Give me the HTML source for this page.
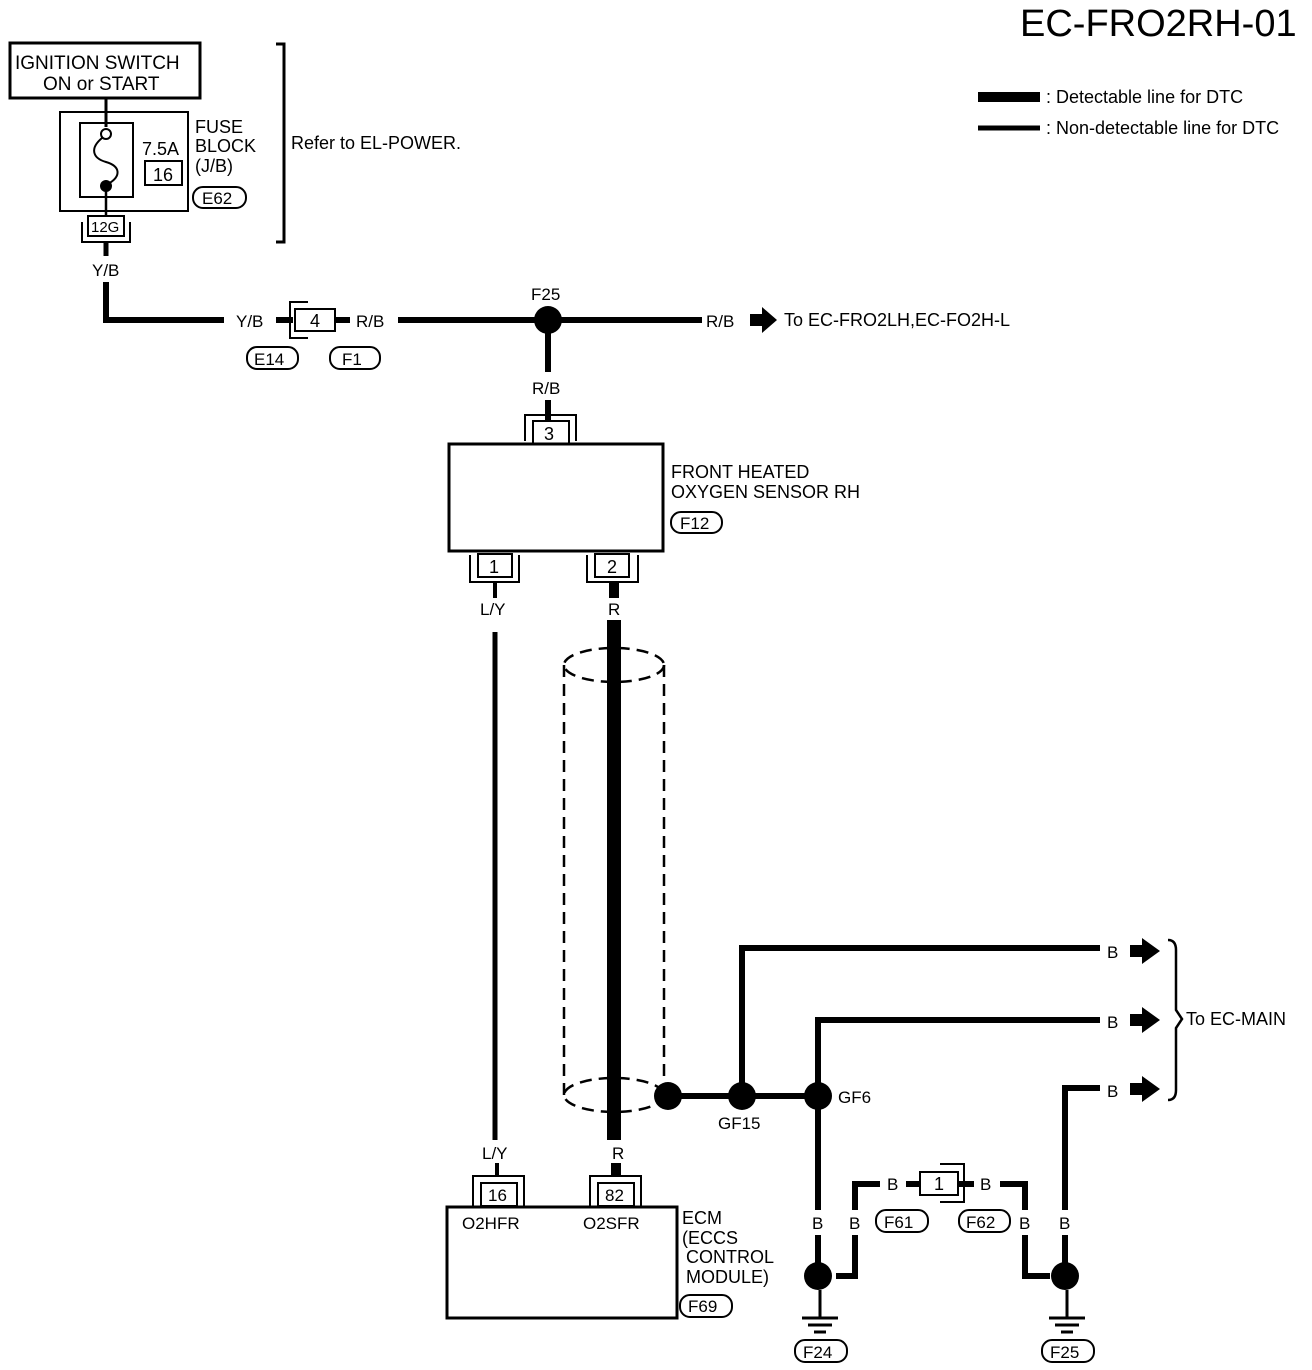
<!DOCTYPE html>
<html><head><meta charset="utf-8"><style>
html,body{margin:0;padding:0;background:#fff;}
svg{display:block;}
text{font-family:"Liberation Sans",sans-serif;fill:#000;}
</style></head><body>
<svg width="1312" height="1370" viewBox="0 0 1312 1370" xmlns="http://www.w3.org/2000/svg">
<text x="1020" y="36" font-size="38">EC-FRO2RH-01</text>
<line x1="978" y1="97" x2="1040" y2="97" stroke="#000" stroke-width="10"/>
<line x1="978" y1="128" x2="1040" y2="128" stroke="#000" stroke-width="5"/>
<text x="1046" y="103" font-size="18">: Detectable line for DTC</text>
<text x="1046" y="134" font-size="18">: Non-detectable line for DTC</text>

<g fill="none" stroke="#000" stroke-width="2.5">
<rect x="10" y="43" width="190" height="55" stroke-width="3"/>
<line x1="106" y1="98" x2="106" y2="127" stroke-width="3"/>
<rect x="60" y="112" width="128" height="99" stroke-width="2"/>
<rect x="80" y="123" width="53" height="74" stroke-width="2"/>
<circle cx="106" cy="134" r="5" stroke-width="2"/>
<path d="M102 138 C90 148,92 158,106 162 C120 166,122 176,108 184" stroke-width="2"/>
<line x1="106" y1="190" x2="106" y2="216" stroke-width="2.5"/>
<rect x="145" y="161" width="37" height="24" stroke-width="2"/>
<rect x="193" y="187" width="53" height="21" rx="10" stroke-width="2"/>
<rect x="88" y="216" width="36" height="20" stroke-width="2"/>
<path d="M82 222 V242 H130 V222" stroke-width="2"/>
<path d="M276 44 H284 V242 H276" stroke-width="3"/>
</g>
<circle cx="106" cy="186" r="6" fill="#000"/>
<text x="15" y="69" font-size="19">IGNITION SWITCH</text>
<text x="43" y="90" font-size="19">ON or START</text>
<text x="142" y="155" font-size="18">7.5A</text>
<text x="153" y="181" font-size="18">16</text>
<text x="195" y="133" font-size="18">FUSE</text>
<text x="195" y="152" font-size="18">BLOCK</text>
<text x="195" y="172" font-size="18">(J/B)</text>
<text x="202" y="204" font-size="17">E62</text>
<text x="91" y="232" font-size="15">12G</text>
<text x="291" y="149" font-size="18">Refer to EL-POWER.</text>

<line x1="106" y1="242" x2="106" y2="256" stroke="#000" stroke-width="5"/>
<text x="92" y="276" font-size="17">Y/B</text>
<path d="M106 282 V320 H224" fill="none" stroke="#000" stroke-width="6"/>
<text x="236" y="327" font-size="17">Y/B</text>
<line x1="276" y1="320" x2="293" y2="320" stroke="#000" stroke-width="6"/>
<g fill="none" stroke="#000" stroke-width="2">
<rect x="295" y="309" width="40" height="22"/>
<path d="M308 302 H290 V338 H308"/>
<rect x="247" y="347" width="51" height="22" rx="10"/>
<rect x="330" y="347" width="50" height="22" rx="10"/>
</g>
<text x="310" y="327" font-size="18">4</text>
<line x1="335" y1="320" x2="350" y2="320" stroke="#000" stroke-width="6"/>
<text x="356" y="327" font-size="17">R/B</text>
<line x1="398" y1="320" x2="702" y2="320" stroke="#000" stroke-width="6"/>
<text x="254" y="365" font-size="17">E14</text>
<text x="342" y="365" font-size="17">F1</text>
<circle cx="548" cy="320" r="14" fill="#000"/>
<text x="531" y="300" font-size="17">F25</text>
<text x="706" y="327" font-size="17">R/B</text>
<path d="M750 314 H762 V307 L777 320 L762 333 V326 H750 Z" fill="#000"/>
<text x="784" y="326" font-size="18">To EC-FRO2LH,EC-FO2H-L</text>
<line x1="548" y1="330" x2="548" y2="372" stroke="#000" stroke-width="6"/>
<text x="532" y="394" font-size="17">R/B</text>
<line x1="548" y1="400" x2="548" y2="420" stroke="#000" stroke-width="6"/>
<g fill="none" stroke="#000" stroke-width="2">
<rect x="533" y="421" width="36" height="23"/>
<path d="M525 441 V415 H576 V441"/>
<rect x="449" y="444" width="214" height="107" stroke-width="3"/>
<rect x="478" y="554" width="34" height="23"/>
<path d="M470 555 V582 H519 V555"/>
<rect x="595" y="554" width="34" height="23"/>
<path d="M587 555 V582 H638 V555"/>
<rect x="671" y="512" width="51" height="21" rx="10"/>
</g>
<text x="544" y="440" font-size="18">3</text>
<text x="489" y="573" font-size="18">1</text>
<text x="607" y="573" font-size="18">2</text>
<text x="671" y="478" font-size="18">FRONT HEATED</text>
<text x="671" y="498" font-size="18">OXYGEN SENSOR RH</text>
<text x="680" y="529" font-size="17">F12</text>
<line x1="495" y1="582" x2="495" y2="598" stroke="#000" stroke-width="4"/>
<line x1="614" y1="582" x2="614" y2="598" stroke="#000" stroke-width="10"/>
<text x="480" y="615" font-size="17">L/Y</text>
<text x="608" y="615" font-size="17">R</text>
<line x1="495" y1="632" x2="495" y2="1140" stroke="#000" stroke-width="5"/>
<g fill="none" stroke="#000" stroke-width="2.5" stroke-dasharray="12,7">
<ellipse cx="614" cy="665" rx="50" ry="17"/>
<ellipse cx="614" cy="1095" rx="50" ry="17"/>
<line x1="564" y1="665" x2="564" y2="1095"/>
<line x1="664" y1="665" x2="664" y2="1080"/>
</g>
<line x1="614" y1="620" x2="614" y2="1140" stroke="#000" stroke-width="14"/>
<g fill="none" stroke="#000" stroke-width="6">
<line x1="668" y1="1096" x2="818" y2="1096"/>
<path d="M742 1096 V948 H1128"/>
<path d="M818 1096 V1020 H1102"/>
<path d="M1065 1210 V1088 H1102"/>
<line x1="1065" y1="1235" x2="1065" y2="1270"/>
<line x1="818" y1="1096" x2="818" y2="1210"/>
<line x1="818" y1="1235" x2="818" y2="1270"/>
<path d="M836 1276 H855 V1235"/>
<path d="M855 1210 V1184 H880"/>
<line x1="906" y1="1184" x2="920" y2="1184"/>
<line x1="958" y1="1184" x2="974" y2="1184"/>
<path d="M1000 1184 H1025 V1210"/>
<path d="M1025 1235 V1276 H1050"/>
</g>
<rect x="1100" y="1077" width="30" height="24" fill="#fff"/>
<rect x="1100" y="1008" width="30" height="24" fill="#fff"/>
<rect x="1100" y="937" width="30" height="24" fill="#fff"/>
<text x="1107" y="958" font-size="17">B</text>
<text x="1107" y="1028" font-size="17">B</text>
<text x="1107" y="1097" font-size="17">B</text>
<path d="M1130 945 H1142 V938 L1160 951 L1142 964 V957 H1130 Z" fill="#000"/>
<path d="M1130 1014 H1142 V1007 L1160 1020 L1142 1033 V1026 H1130 Z" fill="#000"/>
<path d="M1130 1083 H1142 V1076 L1160 1089 L1142 1102 V1095 H1130 Z" fill="#000"/>
<path d="M1168 940 Q1176 940 1176 950 V1010 L1182 1019 L1176 1028 V1090 Q1176 1100 1168 1100" fill="none" stroke="#000" stroke-width="2.5"/>
<text x="1186" y="1025" font-size="18">To EC-MAIN</text>
<circle cx="668" cy="1096" r="14" fill="#000"/>
<circle cx="742" cy="1096" r="14" fill="#000"/>
<circle cx="818" cy="1096" r="14" fill="#000"/>
<text x="718" y="1129" font-size="17">GF15</text>
<text x="838" y="1103" font-size="17">GF6</text>
<text x="812" y="1229" font-size="17">B</text>
<text x="849" y="1229" font-size="17">B</text>
<text x="1019" y="1229" font-size="17">B</text>
<text x="1059" y="1229" font-size="17">B</text>
<text x="887" y="1190" font-size="17">B</text>
<text x="980" y="1190" font-size="17">B</text>
<g fill="none" stroke="#000" stroke-width="2">
<rect x="920" y="1172" width="38" height="23"/>
<path d="M940 1164 H964 V1202 H940"/>
<rect x="876" y="1210" width="52" height="22" rx="10"/>
<rect x="959" y="1210" width="51" height="22" rx="10"/>
<rect x="795" y="1340" width="52" height="22" rx="10"/>
<rect x="1042" y="1340" width="52" height="22" rx="10"/>
</g>
<text x="934" y="1190" font-size="18">1</text>
<text x="884" y="1228" font-size="17">F61</text>
<text x="966" y="1228" font-size="17">F62</text>
<text x="803" y="1358" font-size="17">F24</text>
<text x="1050" y="1358" font-size="17">F25</text>
<circle cx="818" cy="1276" r="14" fill="#000"/>
<circle cx="1065" cy="1276" r="14" fill="#000"/>
<g stroke="#000" stroke-width="3">
<line x1="820" y1="1290" x2="820" y2="1318"/>
<line x1="802" y1="1318" x2="838" y2="1318"/>
<line x1="808" y1="1325" x2="832" y2="1325"/>
<line x1="814" y1="1332" x2="826" y2="1332"/>
<line x1="1067" y1="1290" x2="1067" y2="1318"/>
<line x1="1049" y1="1318" x2="1085" y2="1318"/>
<line x1="1055" y1="1325" x2="1079" y2="1325"/>
<line x1="1061" y1="1332" x2="1073" y2="1332"/>
</g>
<text x="482" y="1159" font-size="17">L/Y</text>
<text x="612" y="1159" font-size="17">R</text>
<line x1="497" y1="1163" x2="497" y2="1176" stroke="#000" stroke-width="4"/>
<line x1="616" y1="1163" x2="616" y2="1176" stroke="#000" stroke-width="10"/>
<g fill="none" stroke="#000" stroke-width="2">
<rect x="481" y="1183" width="36" height="23"/>
<path d="M473 1207 V1176 H524 V1207"/>
<rect x="598" y="1183" width="36" height="23"/>
<path d="M590 1207 V1176 H641 V1207"/>
<rect x="447" y="1207" width="230" height="111" stroke-width="3"/>
<rect x="680" y="1295" width="52" height="22" rx="10"/>
</g>
<text x="488" y="1201" font-size="17">16</text>
<text x="605" y="1201" font-size="17">82</text>
<text x="462" y="1229" font-size="17">O2HFR</text>
<text x="583" y="1229" font-size="17">O2SFR</text>
<text x="682" y="1224" font-size="18">ECM</text>
<text x="682" y="1244" font-size="18">(ECCS</text>
<text x="686" y="1263" font-size="18">CONTROL</text>
<text x="686" y="1283" font-size="18">MODULE)</text>
<text x="688" y="1312" font-size="17">F69</text>
</svg>
</body></html>
